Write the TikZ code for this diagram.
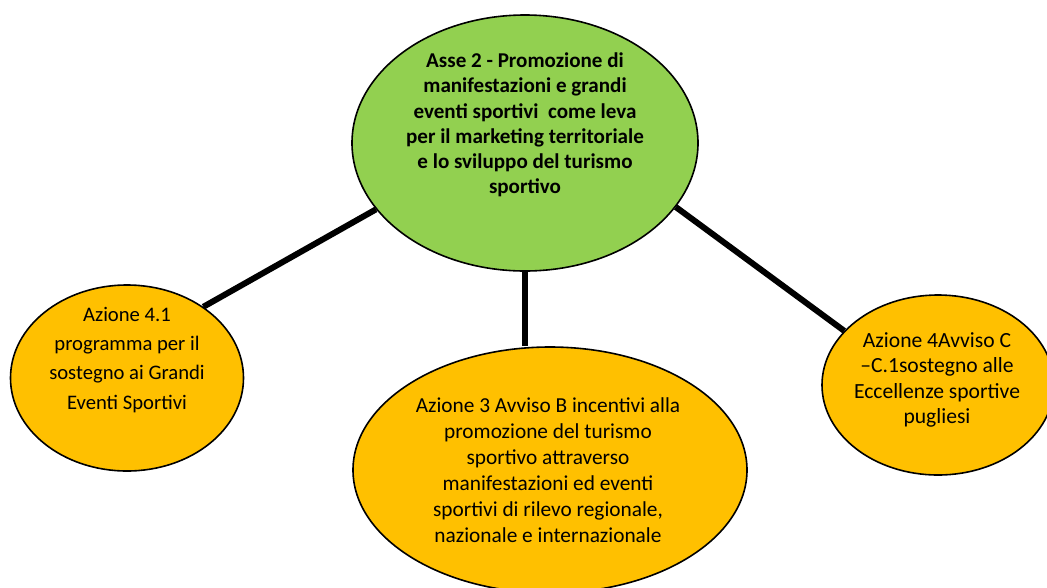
\documentclass[tikz,border=0pt]{standalone}
\usepackage{fontspec}
\setmainfont{Carlito}
\usetikzlibrary{shapes.geometric}
\definecolor{verde}{HTML}{92D050}
\definecolor{arancio}{HTML}{FFC000}

\begin{document}
\begin{tikzpicture}[x=0.75pt,y=-0.75pt,
    % define styles
    bolla/.style={
        draw,
        ellipse,
        line width=1.2pt,
        inner sep=0pt
    },
    asse/.style={
        bolla,
        fill=verde,
        minimum width=259.5pt,
        minimum height=192pt
    },
    azione/.style={
        bolla,
        fill=arancio
    },
    testo/.style={
        align=center,
        inner sep=0pt
    },
    legame/.style={
        line width=4.5pt
    }
]
\useasboundingbox (0,0) rectangle (1047,587);
\clip (0,0) rectangle (1047,587);
% Central bubble
\node[asse] (asse) at (525,143) {};
\node[testo,font=\bfseries\fontsize{15.8}{18.9}\selectfont] (assetxt) at (525,125)
    {Asse 2 - Promozione di\\ manifestazioni e grandi\\ eventi sportivi\ \ come leva\\
     per il marketing territoriale\\ e lo sviluppo del turismo\\ sportivo};
% Left bubble
\node[azione,minimum width=174.75pt,minimum height=139.5pt] (az41) at (127,378) {};
\node[testo,font=\fontsize{15.5}{21.8}\selectfont] (az41txt) at (127,360)
    {Azione 4.1\\ programma per il\\ sostegno ai Grandi\\ Eventi Sportivi};
% Middle bubble
\node[azione,minimum width=295.5pt,minimum height=184.5pt] (az3) at (550,470) {};
\node[testo,font=\fontsize{16}{19.5}\selectfont] (az3txt) at (548,470)
    {Azione 3 Avviso B incentivi alla\\ promozione del turismo\\ sportivo attraverso\\
     manifestazioni ed eventi\\ sportivi di rilevo regionale,\\ nazionale e internazionale};
% Right bubble
\node[azione,minimum width=174pt,minimum height=135pt] (az4) at (938,385) {};
\node[testo,font=\fontsize{16.2}{18.9}\selectfont] (az4txt) at (937,380)
    {Azione 4Avviso C\\ –C.1sostegno alle\\ Eccellenze sportive\\ pugliesi};

% Lines joining the central bubble to the actions
\draw[legame] (asse.204) -- (az41.43);
\draw[legame] (asse.south) -- (asse.south |- az3.north);
\draw[legame] (asse.-23) -- (az4.150);
\end{tikzpicture}
\end{document}
